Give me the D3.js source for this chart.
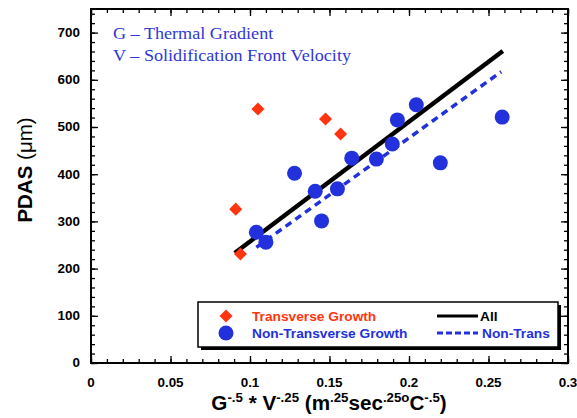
<!DOCTYPE html>
<html>
<head>
<meta charset="utf-8">
<script src="https://cdn.jsdelivr.net/npm/d3@7"></script>
<style>
  html, body { margin: 0; padding: 0; background: #fff; }
  svg { display: block; }
</style>
</head>
<body>
<div id="chart"></div>
<script>
// ---- data ----
const transX = [0.091, 0.094, 0.105, 0.1475, 0.157];
const transY = [326, 231, 538, 517, 485];
const nonTransX = [0.104, 0.110, 0.128, 0.141, 0.145, 0.155, 0.164, 0.1795, 0.1895, 0.1927, 0.2046, 0.2197, 0.2586];
const nonTransY = [277, 256, 402, 364, 301, 369, 434, 432, 464, 515, 547, 424, 521];
const allFitX = [0.0904, 0.259];
const allFitY = [233, 661];
const nonFitX = [0.104, 0.258];
const nonFitY = [245, 617];
const xTickValues = [0, 0.05, 0.1, 0.15, 0.2, 0.25, 0.3];
const xTickLabels = ["0", "0.05", "0.1", "0.15", "0.2", "0.25", "0.3"];
const yTickValues = [0, 100, 200, 300, 400, 500, 600, 700];
const legendLabels = ["Transverse Growth", "Non-Transverse Growth", "All", "Non-Trans"];
const noteLines = ["G \u2013 Thermal Gradient", "V \u2013 Solidification Front Velocity"];

const W = 577, H = 418;
const m = {left: 91, right: 577 - 568, top: 9, bottom: 418 - 363};
const RED = "#ff3510", BLUE = "#2231dc", TXTBLUE = "#2f36d6";

const svg = d3.select("#chart").append("svg").attr("width", W).attr("height", H);
const x = d3.scaleLinear().domain([0, 0.3]).range([m.left, W - m.right]);
const y = d3.scaleLinear().domain([0, 750]).range([H - m.bottom, m.top]);

// minor + major ticks on all four sides (inward)
const xMinor = d3.range(0, 0.3001, 0.01);
const yMinor = d3.range(0, 750.1, 20);
function axisGen(axisFn, scale, vals, len) {
  return axisFn(scale).tickValues(vals).tickSize(len).tickFormat("");
}
const tickStyle = g => { g.select(".domain").remove(); g.selectAll("line").attr("stroke", "#000").attr("stroke-width", 1.3); };
svg.append("g").attr("transform", `translate(0,${y(0)})`).call(axisGen(d3.axisTop, x, xMinor, 4)).call(tickStyle);
svg.append("g").attr("transform", `translate(0,${y(0)})`).call(axisGen(d3.axisTop, x, xTickValues, 7)).call(tickStyle);
svg.append("g").attr("transform", `translate(0,${m.top})`).call(axisGen(d3.axisBottom, x, xMinor, 4)).call(tickStyle);
svg.append("g").attr("transform", `translate(0,${m.top})`).call(axisGen(d3.axisBottom, x, xTickValues, 7)).call(tickStyle);
svg.append("g").attr("transform", `translate(${x(0)},0)`).call(axisGen(d3.axisRight, y, yMinor, 4)).call(tickStyle);
svg.append("g").attr("transform", `translate(${x(0)},0)`).call(axisGen(d3.axisRight, y, yTickValues, 7)).call(tickStyle);
svg.append("g").attr("transform", `translate(${x(0.3)},0)`).call(axisGen(d3.axisLeft, y, yMinor, 4)).call(tickStyle);
svg.append("g").attr("transform", `translate(${x(0.3)},0)`).call(axisGen(d3.axisLeft, y, yTickValues, 7)).call(tickStyle);

// frame
svg.append("rect").attr("x", x(0)).attr("y", y(750)).attr("width", x(0.3) - x(0)).attr("height", y(0) - y(750))
  .attr("fill", "none").attr("stroke", "#000").attr("stroke-width", 2);

// tick labels
const lblFont = "Liberation Sans, Arial, sans-serif";
xTickValues.forEach((v, i) => {
  svg.append("text").attr("transform", `translate(${x(v)},387) scale(1.12,1)`)
    .attr("text-anchor", "middle").attr("font-family", lblFont).attr("font-weight", "bold")
    .attr("font-size", 12).text(xTickLabels[i]);
});
yTickValues.forEach(v => {
  svg.append("text").attr("transform", `translate(80,${y(v) + 4.3}) scale(1.12,1)`)
    .attr("text-anchor", "end").attr("font-family", lblFont).attr("font-weight", "bold")
    .attr("font-size", 12).text(v);
});

// axis titles
const yl = svg.append("text").attr("transform", "translate(32,170) rotate(-90)")
  .attr("text-anchor", "middle").attr("font-family", lblFont).attr("font-size", 20.5);
yl.append("tspan").attr("font-weight", "bold").text("PDAS");
yl.append("tspan").text(" (\u03bcm)");

const xl = svg.append("text").attr("transform", "translate(329,410) scale(1.06,1)")
  .attr("text-anchor", "middle").attr("font-family", lblFont).attr("font-size", 19.5).attr("font-weight", "bold");
const parts = [["G", 0], ["-.5", 1], [" * V", 0], ["-.25", 1], [" (m", 0], [".25", 1], ["sec", 0], [".25o", 1], ["C", 0], ["-.5", 1], [")", 0]];
let prevSup = false;
parts.forEach(([t, s]) => {
  const ts = xl.append("tspan").text(t);
  if (s) { ts.attr("font-size", 12.5).attr("dy", prevSup ? 0 : -8); }
  else { ts.attr("dy", prevSup ? 8 : 0); }
  prevSup = !!s;
});

// annotation notes
noteLines.forEach((t, i) => {
  svg.append("text").attr("transform", `translate(113,${39 + i * 22}) scale(1.08,1)`)
    .attr("font-family", "Liberation Serif, Times New Roman, serif").attr("font-size", 16.8)
    .attr("fill", TXTBLUE).text(t);
});

// fit lines
const line = d3.line().x(d => x(d[0])).y(d => y(d[1]));
svg.append("path").datum(allFitX.map((v, i) => [v, allFitY[i]])).attr("d", line)
  .attr("stroke", "#000").attr("stroke-width", 4.5).attr("fill", "none");
svg.append("path").datum(nonFitX.map((v, i) => [v, nonFitY[i]])).attr("d", line)
  .attr("stroke", BLUE).attr("stroke-width", 3.5).attr("stroke-dasharray", "7,5").attr("fill", "none");

// points
const diamond = d3.symbol().type(d3.symbolSquare).size(85);
svg.append("g").selectAll("path").data(transX.map((v, i) => [v, transY[i]])).join("path")
  .attr("d", diamond).attr("transform", d => `translate(${x(d[0])},${y(d[1])}) rotate(45)`).attr("fill", RED);
svg.append("g").selectAll("circle").data(nonTransX.map((v, i) => [v, nonTransY[i]])).join("circle")
  .attr("cx", d => x(d[0])).attr("cy", d => y(d[1])).attr("r", 7.5).attr("fill", BLUE);

// legend
const lg = svg.append("g");
lg.append("rect").attr("x", 201).attr("y", 305).attr("width", 360).attr("height", 45).attr("fill", "#000");
lg.append("rect").attr("x", 198).attr("y", 302).attr("width", 360).attr("height", 45).attr("fill", "#fff")
  .attr("stroke", "#000").attr("stroke-width", 1.5);
lg.append("path").attr("d", diamond).attr("transform", "translate(226,316) rotate(45)").attr("fill", RED);
lg.append("circle").attr("cx", 226).attr("cy", 333).attr("r", 7.5).attr("fill", BLUE);
lg.append("text").attr("transform", "translate(252,321) scale(1.04,1)").attr("font-family", lblFont).attr("font-weight", "bold")
  .attr("font-size", 13.2).attr("fill", RED).text(legendLabels[0]);
lg.append("text").attr("transform", "translate(252,338) scale(1.04,1)").attr("font-family", lblFont).attr("font-weight", "bold")
  .attr("font-size", 13.2).attr("fill", BLUE).text(legendLabels[1]);
lg.append("line").attr("x1", 437).attr("x2", 478).attr("y1", 316).attr("y2", 316).attr("stroke", "#000").attr("stroke-width", 3);
lg.append("line").attr("x1", 437).attr("x2", 478).attr("y1", 333).attr("y2", 333).attr("stroke", BLUE).attr("stroke-width", 3).attr("stroke-dasharray", "6,3");
lg.append("text").attr("transform", "translate(480,321) scale(1.04,1)").attr("font-family", lblFont).attr("font-weight", "bold")
  .attr("font-size", 13.2).attr("fill", "#000").text(legendLabels[2]);
lg.append("text").attr("transform", "translate(482,338) scale(1.04,1)").attr("font-family", lblFont).attr("font-weight", "bold")
  .attr("font-size", 13.2).attr("fill", BLUE).text(legendLabels[3]);
</script>
</body>
</html>
